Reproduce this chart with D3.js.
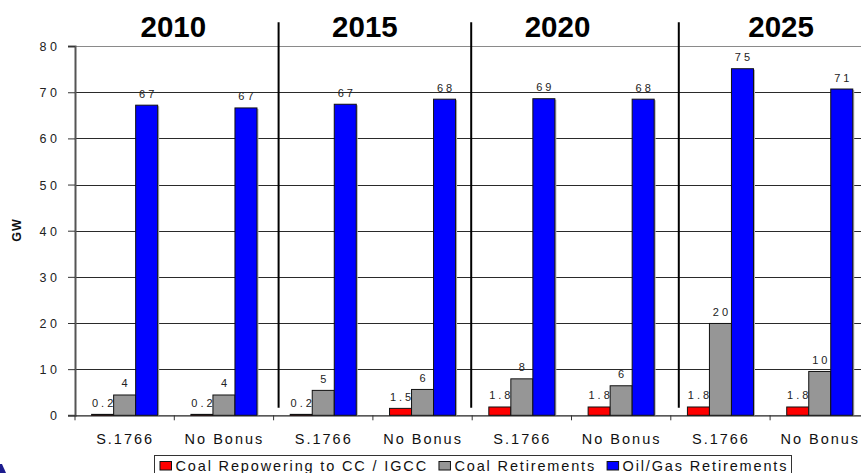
<!DOCTYPE html>
<html>
<head>
<meta charset="utf-8">
<script src="https://cdn.jsdelivr.net/npm/d3@7"></script>
<style>
  html, body { margin: 0; padding: 0; background: #fff; overflow: hidden; }
  svg { display: block; font-family: "Liberation Sans", Arial, sans-serif; }
</style>
</head>
<body>
<svg id="chart" width="861" height="473"></svg>
<script>
// ---- data ----
const years = ["2010", "2015", "2020", "2025"];
const scenarios = ["S.1766", "No Bonus", "S.1766", "No Bonus", "S.1766", "No Bonus", "S.1766", "No Bonus"];
const seriesNames = ["Coal Repowering to CC / IGCC", "Coal Retirements", "Oil/Gas Retirements"];
const coalRepowering = [0.2, 0.2, 0.2, 1.5, 1.8, 1.8, 1.8, 1.8];
const coalRetirements = [4.4, 4.4, 5.4, 5.6, 7.9, 6.4, 19.9, 9.5];
const oilGasRetirements = [67.2, 66.6, 67.4, 68.5, 68.6, 68.5, 75.1, 70.7];
const coalRepoweringLabels = ["0.2", "0.2", "0.2", "1.5", "1.8", "1.8", "1.8", "1.8"];
const coalRetirementsLabels = ["4", "4", "5", "6", "8", "6", "20", "10"];
const oilGasRetirementsLabels = ["67", "67", "67", "68", "69", "68", "75", "71"];
const yTicks = [0, 10, 20, 30, 40, 50, 60, 70, 80];

const seriesValues = [coalRepowering, coalRetirements, oilGasRetirements];
const seriesLabels = [coalRepoweringLabels, coalRetirementsLabels, oilGasRetirementsLabels];
const colors = ["#ff0000", "#969696", "#0000ff"];

// ---- layout ----
const svg = d3.select("#chart");
const plotLeft = 75, plotRight = 869.4, plotTop = 46.1, plotBottom = 415.3;
const font = '"Liberation Sans", Arial, sans-serif';

const x0 = d3.scaleBand().domain(d3.range(scenarios.length)).range([plotLeft, plotRight]).paddingInner(0).paddingOuter(0);
const x1 = d3.scaleBand().domain(d3.range(seriesNames.length)).range([0, x0.bandwidth()]).paddingInner(0).paddingOuter(0.755);
const y = d3.scaleLinear().domain([0, 80]).range([plotBottom, plotTop]);

// gridlines
svg.append("g").selectAll("line").data(yTicks.filter(t => t > 0)).join("line")
  .attr("x1", plotLeft).attr("x2", 861)
  .attr("y1", d => Math.round(y(d)) + 0.5).attr("y2", d => Math.round(y(d)) + 0.5)
  .attr("stroke", d => d === 80 ? "#8a8a8a" : "#2a2a2a").attr("stroke-width", 1);

// y axis
const yAxis = svg.append("g").attr("transform", `translate(${plotLeft},0)`)
  .call(d3.axisLeft(y).tickValues(yTicks).tickSize(7).tickPadding(0).tickFormat(d3.format("d")));
yAxis.select(".domain").attr("stroke", "#555").attr("stroke-width", 2);
yAxis.selectAll(".tick line").attr("stroke", "#333");
yAxis.selectAll(".tick text")
  .attr("x", -14.5).attr("dy", "0.36em")
  .attr("font-size", 12.5).attr("font-family", font).attr("fill", "#222")
  .style("letter-spacing", "3.5px");

// x axis
const xAxis = svg.append("g").attr("transform", `translate(0,${plotBottom})`)
  .call(d3.axisBottom(x0).tickSize(0).tickPadding(18).tickFormat(i => scenarios[i]));
xAxis.select(".domain").attr("stroke", "#222").attr("stroke-width", 1.2);
xAxis.selectAll(".tick text")
  .attr("font-size", 14.5).attr("font-family", font).attr("fill", "#111")
  .attr("dx", 0.5).style("letter-spacing", "2px");
// boundary ticks
svg.append("g").selectAll("line").data(d3.range(scenarios.length + 1)).join("line")
  .attr("x1", i => i < scenarios.length ? x0(i) : plotRight)
  .attr("x2", i => i < scenarios.length ? x0(i) : plotRight)
  .attr("y1", plotBottom).attr("y2", plotBottom + 5)
  .attr("stroke", "#333").attr("stroke-width", 1);

// bars
const barData = [];
scenarios.forEach((s, i) => seriesValues.forEach((vals, k) => barData.push({ i, k, v: vals[i], label: seriesLabels[k][i] })));

const bars = svg.append("g");
bars.selectAll("rect.shadow").data(barData).join("rect").attr("class", "shadow")
  .attr("x", d => x0(d.i) + x1(d.k) + 1.5)
  .attr("y", d => y(d.v) + 1)
  .attr("width", x1.bandwidth())
  .attr("height", d => plotBottom - y(d.v) - 1)
  .attr("fill", "#b0b0b0");
bars.selectAll("rect.bar").data(barData).join("rect").attr("class", "bar")
  .attr("x", d => x0(d.i) + x1(d.k))
  .attr("y", d => y(d.v))
  .attr("width", x1.bandwidth())
  .attr("height", d => plotBottom - y(d.v))
  .attr("fill", d => colors[d.k])
  .attr("stroke", "#111").attr("stroke-width", 1);

// value labels
svg.append("g").selectAll("text").data(barData).join("text")
  .attr("x", d => x0(d.i) + x1(d.k) + x1.bandwidth() / 2 + 1.5)
  .attr("y", d => y(d.v) - 7.5)
  .attr("text-anchor", "middle")
  .attr("font-size", 11).attr("font-family", font).attr("fill", "#222")
  .style("letter-spacing", "3px")
  .text(d => d.label);

// year separators
const sepOffsets = [5, -1, 8];
svg.append("g").selectAll("line").data([2, 4, 6]).join("line")
  .attr("x1", (d, j) => x0(d) + sepOffsets[j]).attr("x2", (d, j) => x0(d) + sepOffsets[j])
  .attr("y1", 22.3).attr("y2", 407.7)
  .attr("stroke", "#000").attr("stroke-width", 2);

// year titles
const yearOffsets = [-1, -8, -14, 11];
svg.append("g").selectAll("text").data(years).join("text")
  .attr("x", (d, j) => x0(j * 2 + 1) + yearOffsets[j])
  .attr("y", 36.5)
  .attr("text-anchor", "middle")
  .attr("font-size", 29.5).attr("font-weight", "bold").attr("font-family", font).attr("fill", "#000")
  .text(d => d);

// y title
svg.append("text")
  .attr("transform", "translate(21,230) rotate(-90)")
  .attr("text-anchor", "middle")
  .attr("font-size", 12.5).attr("font-weight", "bold").attr("font-family", font).attr("fill", "#111")
  .style("letter-spacing", "1px")
  .text("GW");

// legend
const legend = svg.append("g");
legend.append("rect").attr("x", 154.5).attr("y", 455.5).attr("width", 637).attr("height", 30)
  .attr("fill", "#fff").attr("stroke", "#333").attr("stroke-width", 1);
let lx = 160;
seriesNames.forEach((name, k) => {
  legend.append("rect").attr("x", lx).attr("y", 461.5).attr("width", 11.5).attr("height", 8.5)
    .attr("fill", colors[k]).attr("stroke", "#111").attr("stroke-width", 1);
  const t = legend.append("text").attr("x", lx + 15.5).attr("y", 471)
    .attr("font-size", 14.5).attr("font-family", font).attr("fill", "#111")
    .style("letter-spacing", "1.85px").text(name);
  lx += 15.5 + t.node().getComputedTextLength() + 11;
});

// corner logo fragment
svg.append("path").attr("d", "M0,464 L2,464 L6,473 L0,473 Z").attr("fill", "#1c1c8e");
</script>
</body>
</html>
